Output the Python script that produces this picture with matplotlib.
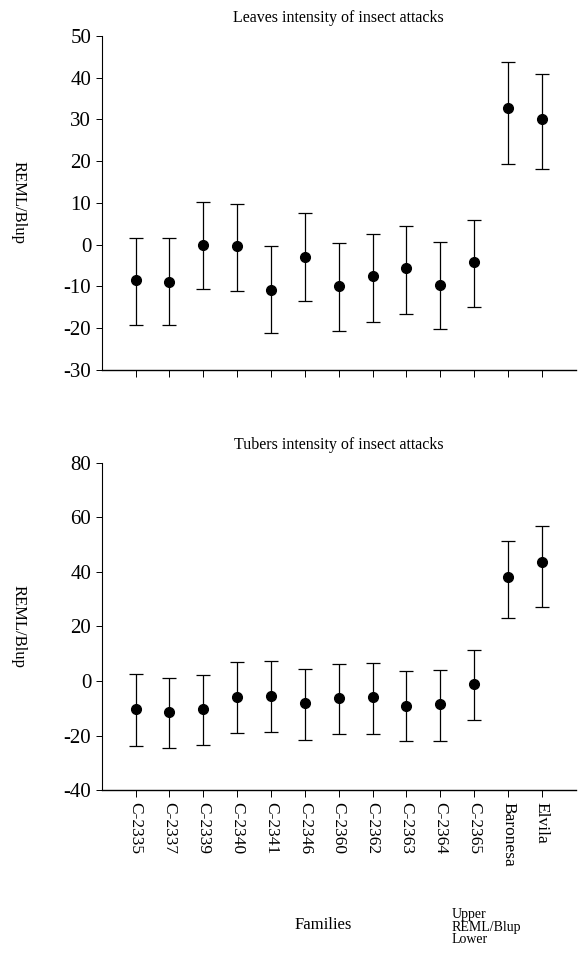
import matplotlib.pyplot as plt

plt.rcParams['font.family'] = ['Liberation Serif', 'DejaVu Serif']
plt.rcParams['axes.unicode_minus'] = False

families = ["C-2335", "C-2337", "C-2339", "C-2340", "C-2341", "C-2346", "C-2360",
            "C-2362", "C-2363", "C-2364", "C-2365", "Baronesa", "Elvila"]

# leaves: REML/Blup with upper and lower limits
leaves_blup = [-8.5, -9.0, -0.2, -0.3, -10.8, -2.9, -9.9, -7.6, -5.6, -9.7, -4.1, 32.8, 30.1]
leaves_upper = [1.6, 1.6, 10.3, 9.8, -0.4, 7.6, 0.3, 2.5, 4.5, 0.6, 6.0, 43.8, 40.9]
leaves_lower = [-19.2, -19.3, -10.6, -11.2, -21.2, -13.4, -20.6, -18.4, -16.5, -20.3, -15.0, 19.3, 18.1]

# tubers
tubers_blup = [-10.2, -11.4, -10.4, -5.7, -5.6, -8.1, -6.3, -5.9, -9.0, -8.5, -1.1, 38.2, 43.8]
tubers_upper = [2.4, 1.1, 2.2, 6.9, 7.5, 4.4, 6.2, 6.6, 3.5, 4.1, 11.4, 51.4, 56.9]
tubers_lower = [-23.9, -24.4, -23.4, -19.1, -18.6, -21.7, -19.5, -19.5, -22.1, -22.1, -14.2, 23.2, 27.1]

x = list(range(1, len(families) + 1))

fig = plt.figure(figsize=(5.78, 9.66), dpi=100)
ax1 = fig.add_axes([0.176, 0.617, 0.82, 0.346])
ax2 = fig.add_axes([0.176, 0.182, 0.82, 0.339])


def draw(ax, blup, up, lo, title, ylim, yticks):
    err = [[b - l for b, l in zip(blup, lo)], [u - b for u, b in zip(up, blup)]]
    ax.errorbar(x, blup, yerr=err, fmt='o', color='black', ms=7,
                elinewidth=0.9, capsize=5, capthick=0.9)
    ax.set_xlim(0, 14)
    ax.set_ylim(*ylim)
    ax.set_yticks(yticks)
    ax.set_xticks(x)
    ax.spines['top'].set_visible(False)
    ax.spines['right'].set_visible(False)
    ax.spines['left'].set_linewidth(0.8)
    ax.spines['bottom'].set_linewidth(1.0)
    ax.tick_params(axis='y', labelsize=15, length=4, width=0.7)
    ax.tick_params(axis='x', length=5, width=0.7)
    ax.set_title(title, fontsize=11.5, pad=10)
    ax.set_ylabel("REML/Blup", fontsize=12, rotation=-90, va='center')
    ax.yaxis.set_label_coords(-0.175, 0.5)


draw(ax1, leaves_blup, leaves_upper, leaves_lower,
     "Leaves intensity of insect attacks", (-30, 50), range(-30, 51, 10))
ax1.set_xticklabels([])

draw(ax2, tubers_blup, tubers_upper, tubers_lower,
     "Tubers intensity of insect attacks", (-40, 80), range(-40, 81, 20))
ax2.set_xticklabels(families, rotation=-90, fontsize=12.5, va='top')

fig.text(0.56, 0.042, "Families", fontsize=12, ha='center', va='center')
fig.text(0.782, 0.06, "Upper\nREML/Blup\nLower", fontsize=10, ha='left', va='top',
         linespacing=0.95)

plt.savefig("out.png", dpi=100)
